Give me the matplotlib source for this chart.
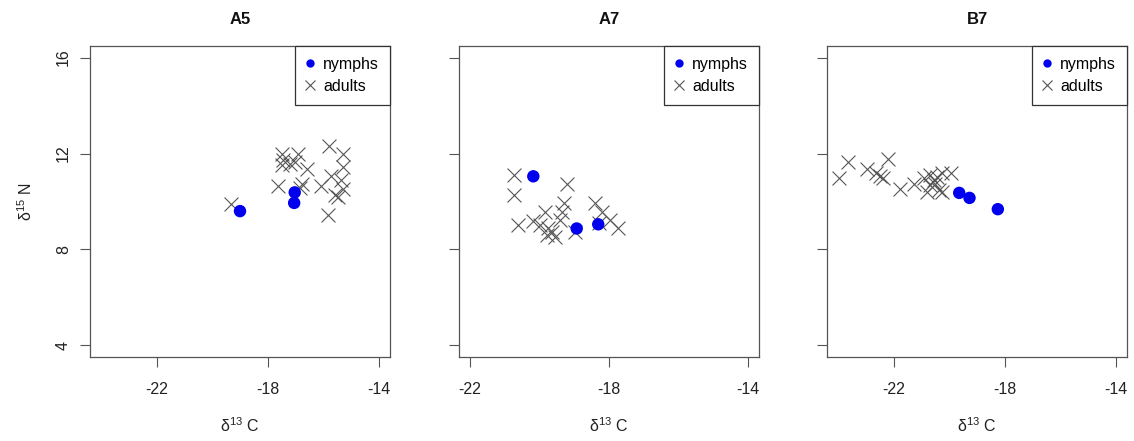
import matplotlib
matplotlib.use("Agg")
import matplotlib.pyplot as plt
from matplotlib.lines import Line2D

plt.rcParams['font.family'] = ['Liberation Sans', 'DejaVu Sans']
plt.rcParams['mathtext.fontset'] = 'custom'
plt.rcParams['mathtext.rm'] = 'Liberation Sans'
plt.rcParams['mathtext.default'] = 'regular'

panels = ["A5", "A7", "B7"]

# A5
a5_nymph_x = [-19.0, -17.03, -17.05]
a5_nymph_y = [9.6, 10.38, 9.94]
a5_adult_x = [-19.33, -17.5, -17.45, -17.5, -16.91, -17.03, -16.57, -17.65, -16.76,
              -15.8, -15.29, -15.29, -15.73, -16.09, -15.35, -15.29, -15.59, -15.49,
              -15.83, -17.2, -16.85]
a5_adult_y = [9.88, 12.0, 11.72, 11.51, 11.96, 11.65, 11.37, 10.65, 10.71,
              12.32, 11.96, 11.44, 11.07, 10.65, 10.89, 10.54, 10.26, 10.19,
              9.43, 11.55, 10.55]

# A7
a7_nymph_x = [-20.18, -18.93, -18.31]
a7_nymph_y = [11.05, 8.875, 9.05]
a7_adult_x = [-20.75, -20.73, -20.61, -19.22, -19.84, -20.18, -19.99, -19.75, -19.65,
              -19.55, -19.79, -19.31, -19.36, -19.41, -18.4, -18.21, -17.97, -17.73,
              -18.98, -18.3]
a7_adult_y = [11.1, 10.26, 9.01, 10.75, 9.57, 9.19, 9.01, 8.875, 8.73,
              8.53, 8.6, 9.92, 9.57, 9.22, 9.92, 9.57, 9.22, 8.875,
              8.73, 9.1]

# B7
b7_nymph_x = [-19.64, -19.27, -18.25]
b7_nymph_y = [10.36, 10.15, 9.68]
b7_adult_x = [-23.98, -23.64, -22.96, -22.63, -22.5, -22.38, -22.2, -21.78, -21.26,
              -20.92, -20.8, -20.68, -20.56, -20.44, -20.26, -19.94, -20.38, -20.26,
              -20.68, -20.5]
b7_adult_y = [10.96, 11.65, 11.35, 11.17, 11.07, 10.96, 11.79, 10.54, 10.71,
              10.96, 10.4, 11.1, 10.89, 11.03, 11.17, 11.17, 10.47, 10.4,
              10.68, 10.75]

x_ranges = [(-24, -14), (-22, -14), (-24, -14)]
y_range = (4, 16)
x_ticks = [-22, -18, -14]
y_ticks = [4, 8, 12, 16]
legend_labels = ["nymphs", "adults"]

data = [
    (a5_nymph_x, a5_nymph_y, a5_adult_x, a5_adult_y),
    (a7_nymph_x, a7_nymph_y, a7_adult_x, a7_adult_y),
    (b7_nymph_x, b7_nymph_y, b7_adult_x, b7_adult_y),
]

W, H = 1134, 441
fig = plt.figure(figsize=(W / 100, H / 100), dpi=100)
lefts = [90, 459, 827]
ax_w, ax_top, ax_bot = 300, 46, 357

blue = '#0000ee'
gray = '#555555'
spine_c = '#555555'
txt_c = '#222222'

for i, (name, (nx, ny, ax_, ay)) in enumerate(zip(panels, data)):
    ax = fig.add_axes([lefts[i] / W, 1 - ax_bot / H, ax_w / W, (ax_bot - ax_top) / H])
    ax.scatter(ax_, ay, marker='x', s=100, c=gray, linewidths=0.8, zorder=2)
    ax.scatter(nx, ny, marker='o', s=80, c=blue, edgecolors='none', zorder=3)
    x0, x1 = x_ranges[i]
    dx = (x1 - x0) * 0.04
    dy = (y_range[1] - y_range[0]) * 0.04
    ax.set_xlim(x0 - dx, x1 + dx)
    ax.set_ylim(y_range[0] - dy, y_range[1] + dy)
    ax.set_xticks(x_ticks)
    ax.set_yticks(y_ticks)
    ax.set_xticklabels([str(t) for t in x_ticks])
    ax.tick_params(axis='both', length=7.2, width=0.8, color=spine_c,
                   labelsize=11.5, labelcolor=txt_c)
    ax.tick_params(axis='x', pad=10.5)
    ax.tick_params(axis='y', pad=6.5)
    if i == 0:
        ax.set_yticklabels([str(t) for t in y_ticks], rotation=90, va='center')
        ax.set_ylabel('δ$^{15}$ N', fontsize=11.5, color=txt_c, labelpad=15)
    else:
        ax.set_yticklabels([])
    for sp in ax.spines.values():
        sp.set_color(spine_c)
        sp.set_linewidth(0.9)
    ax.set_xlabel('δ$^{13}$ C', fontsize=11.5, color=txt_c, labelpad=14.5)
    ax.set_title(name, fontsize=12, fontweight='bold', pad=16, color='#111111')
    handles = [
        Line2D([], [], marker='o', linestyle='none', color=blue, markersize=6,
               markeredgecolor='none'),
        Line2D([], [], marker='x', linestyle='none', color=gray, markersize=6.5,
               markeredgewidth=0.8),
    ]
    leg = ax.legend(handles, legend_labels, loc='upper right', borderaxespad=0,
                    fancybox=False, edgecolor='#333333', fontsize=11.5,
                    handlelength=0.6, handletextpad=0.5, labelspacing=0.45,
                    borderpad=0.68, framealpha=1)
    leg.get_frame().set_linewidth(0.9)

fig.savefig('out.png', dpi=100)
